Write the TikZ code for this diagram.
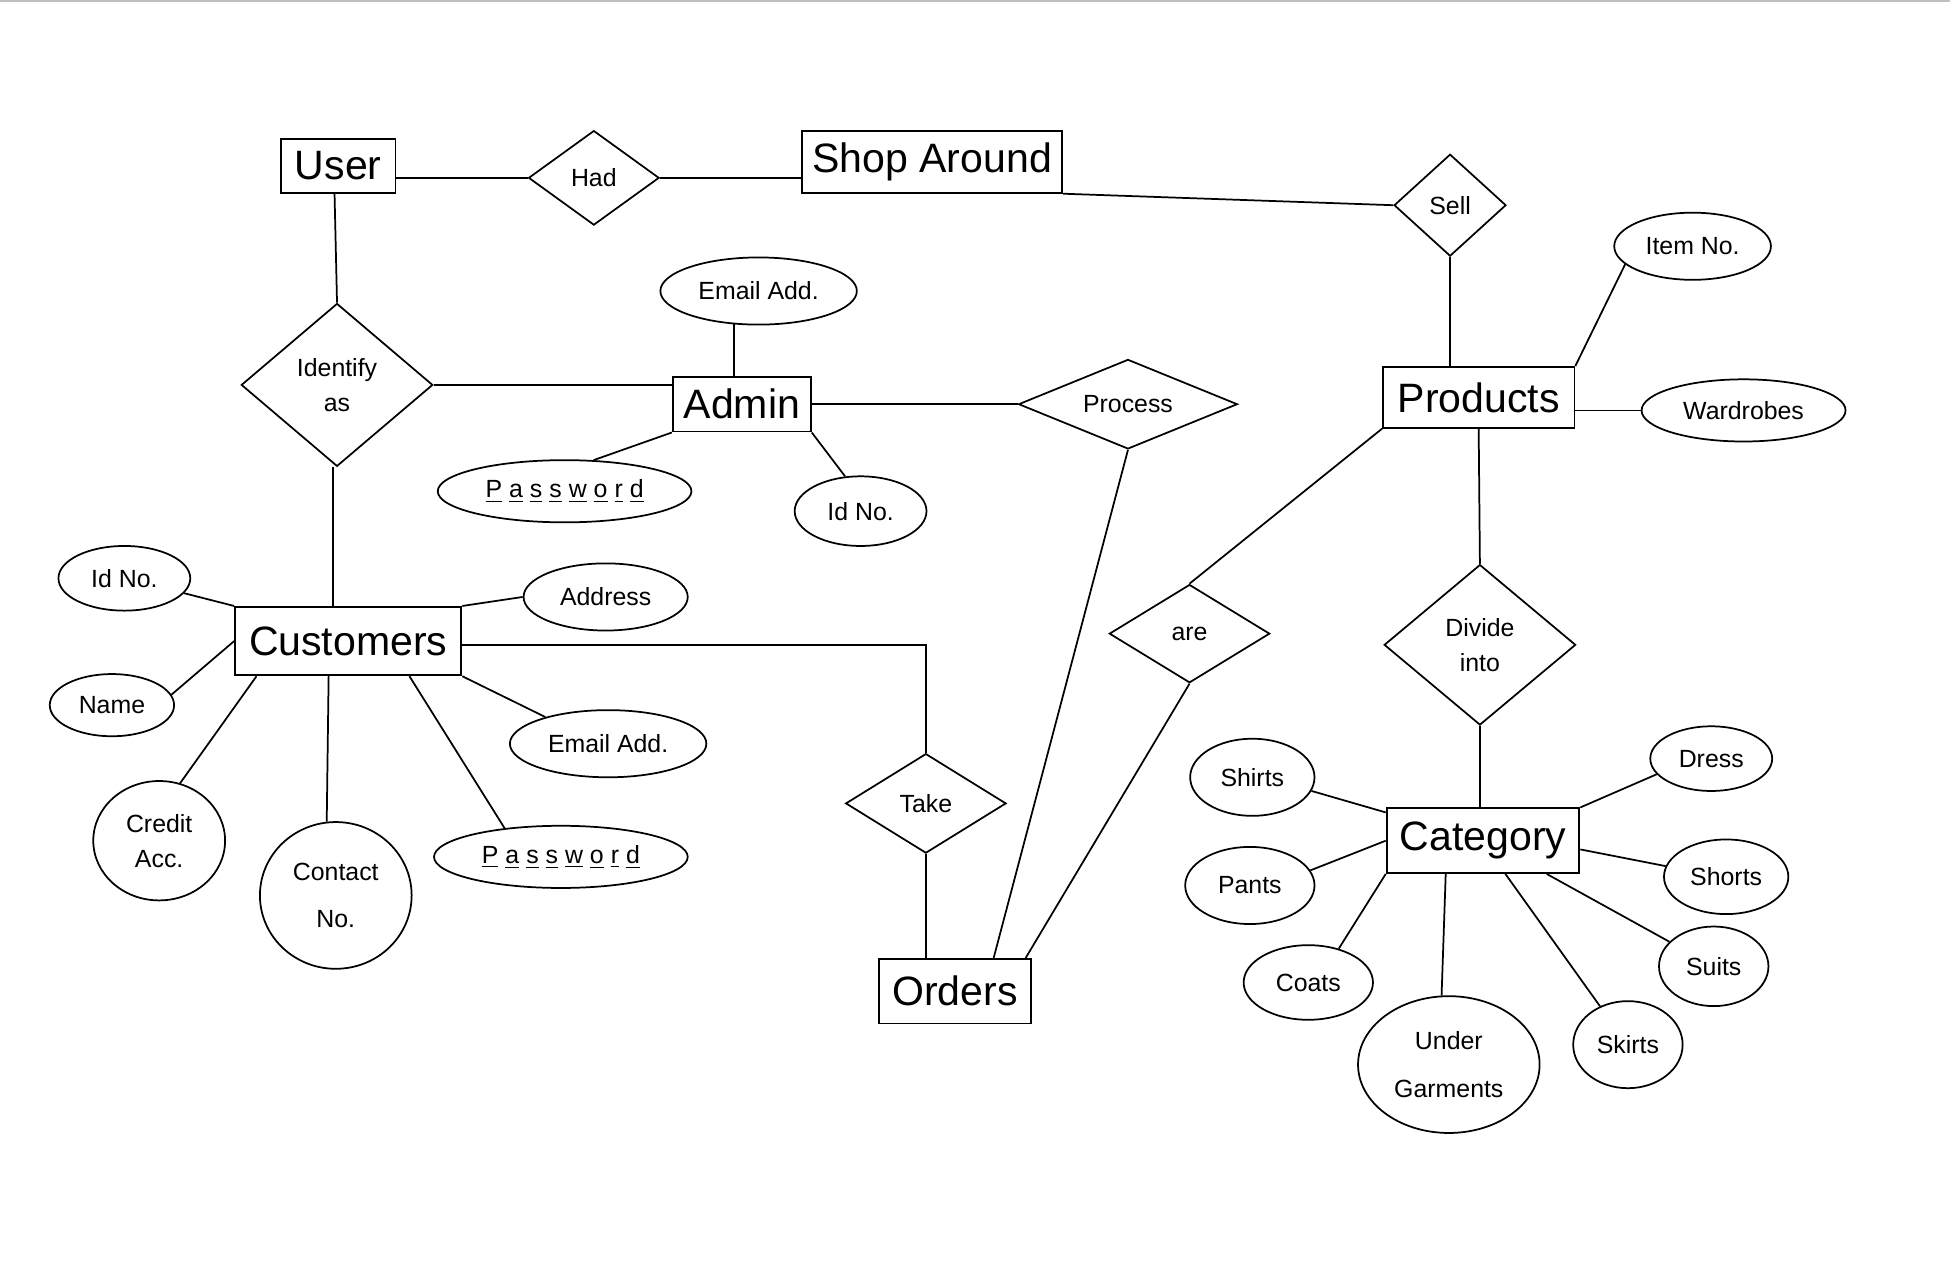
\documentclass[tikz,border=0pt]{standalone}
\usepackage{fontspec}
\setmainfont{Liberation Sans}
\usetikzlibrary{shapes.geometric,calc}
\newcommand{\pwdtext}{\underline{P}\kern2.8pt\underline{a}\kern2.8pt\underline{s}\kern2.8pt\underline{s}\kern2.8pt\underline{w}\kern2.8pt\underline{o}\kern2.8pt\underline{r}\kern2.8pt\underline{d}}
\tikzset{
  ent/.style={draw, rectangle, inner sep=0pt, line width=0.75pt, font=\fontsize{16.5}{19}\selectfont},
  rel/.style={draw, diamond, inner sep=0pt, line width=0.7pt, font=\fontsize{10}{14}\selectfont, align=center},
  attr/.style={draw, ellipse, inner sep=0pt, line width=0.7pt, font=\fontsize{10}{14}\selectfont, align=center},
  tall/.style={font=\fontsize{10}{19}\selectfont},
  link/.style={line width=0.7pt}
}
\begin{document}
\begin{tikzpicture}[x=0.5pt,y=-0.5pt]
\useasboundingbox (0,0) rectangle (1568,1025);
\draw[gray!50, line width=1pt] (0,1) -- (1568,1);
% entities
\node[ent, minimum width=46pt, minimum height=21.5pt] (user) at (272,133.5) {User};
\node[ent, minimum width=104.5pt, minimum height=25pt] (shop) at (749.5,130) {Shop Around};
\node[ent, minimum width=77pt, minimum height=24.5pt] (prod) at (1189,319.5) {Products};
\node[ent, minimum width=55.5pt, minimum height=22pt] (admin) at (596.5,325) {Admin};
\node[ent, minimum width=91pt, minimum height=27.5pt] (cust) at (280,515.5) {Customers};
\node[ent, minimum width=61pt, minimum height=26pt] (orders) at (768,797) {Orders};
\node[ent, minimum width=77.5pt, minimum height=26pt] (cat) at (1192.5,676) {Category};
% relationships
\node[rel, minimum width=52.5pt, minimum height=38pt] (had) at (477.5,143) {Had};
\node[rel, minimum width=45pt, minimum height=41pt] (sell) at (1166,165) {Sell};
\node[rel, shape aspect=2.4, minimum width=88pt, minimum height=36pt] (proc) at (907,325) {Process};
\node[rel, minimum width=77pt, minimum height=65.5pt] (ident) at (271,309.5) {Identify\\as};
\node[rel, minimum width=64.5pt, minimum height=40pt] (take) at (744.5,646) {Take};
\node[rel, minimum width=64.5pt, minimum height=39.5pt] (are) at (956.5,509.5) {are};
\node[rel, minimum width=77pt, minimum height=64.5pt] (div) at (1190,518.5) {Divide\\into};
% attributes
\node[attr, minimum width=63pt, minimum height=27pt] (item) at (1361,198) {Item No.};
\node[attr, minimum width=82pt, minimum height=25pt] (ward) at (1402,330) {Wardrobes};
\node[attr, minimum width=79pt, minimum height=27pt] (email1) at (610,234) {Email Add.};
\node[attr, minimum width=102pt, minimum height=25pt] (pw1) at (454,395) {\pwdtext};
\node[attr, minimum width=53pt, minimum height=28pt] (id1) at (692,411) {Id No.};
\node[attr, minimum width=53pt, minimum height=26pt] (idc) at (100,465) {Id No.};
\node[attr, minimum width=50pt, minimum height=25pt] (name) at (90,567) {Name};
\node[attr, minimum width=66pt, minimum height=27pt] (addr) at (487,480) {Address};
\node[attr, minimum width=79pt, minimum height=27pt] (email2) at (489,598) {Email Add.};
\node[attr, minimum width=53pt, minimum height=48pt] (credit) at (128,676) {Credit\\Acc.};
\node[attr, tall, minimum width=61pt, minimum height=59pt] (contact) at (270,720) {Contact\\No.};
\node[attr, minimum width=102pt, minimum height=25pt] (pw2) at (451,689) {\pwdtext};
\node[attr, minimum width=50pt, minimum height=31pt] (shirts) at (1007,625) {Shirts};
\node[attr, minimum width=49pt, minimum height=26pt] (dress) at (1376,610) {Dress};
\node[attr, minimum width=52pt, minimum height=31pt] (pants) at (1005,712) {Pants};
\node[attr, minimum width=50pt, minimum height=30pt] (shorts) at (1388,705) {Shorts};
\node[attr, minimum width=52pt, minimum height=30pt] (coats) at (1052,790) {Coats};
\node[attr, minimum width=44pt, minimum height=32pt] (suits) at (1378,777) {Suits};
\node[attr, tall, minimum width=73pt, minimum height=55pt] (under) at (1165,856) {Under\\Garments};
\node[attr, minimum width=44pt, minimum height=35pt] (skirts) at (1309,840) {Skirts};
% connectors
\draw[link] (had.west) -- (had.west -| user.east);
\draw[link] (had.east) -- (had.east -| shop.west);
\draw[link] (shop.south east) -- (sell.west);
\draw[link] (sell.south) -- (sell.south |- prod.north);
\draw[link] (prod.north east) -- (item.195);
\draw[link] (ward.west) -- (ward.west -| prod.east);
\draw[link] (email1.234) -- (email1.234 |- admin.north);
\draw[link] (ident.east) -- (ident.east -| admin.west);
\draw[link] (admin.east) -- (proc.west);
\draw[link] (admin.south west) -- (pw1.47);
\draw[link] (admin.south east) -- (id1.114);
\draw[link] ([xshift=-1.5pt]user.south) -- (ident.north);
\draw[link] ([xshift=-1.5pt]ident.south) -- ([xshift=-1.5pt]ident.south |- cust.north);
\draw[link] (idc.-14) -- (cust.north west);
\draw[link] (name.10) -- (cust.west);
\draw[link] (cust.north east) -- (addr.west);
\draw[link] (cust.south east) -- (email2.157);
\draw[link] ([xshift=9pt]cust.south west) -- (credit.70);
\draw[link] ([xshift=38pt]cust.south west) -- (contact.97);
\draw[link] ([xshift=70.5pt]cust.south west) -- (pw2.153);
\draw[link] ([yshift=-1.5pt]cust.east) -| (take.north);
\draw[link] (take.south) -- (take.south |- orders.north);
\draw[link] (proc.south) -- ([xshift=15.5pt]orders.north);
\draw[link] (are.north) -- (prod.south west);
\draw[link] (are.south) -- ([xshift=-2.5pt]orders.north east);
\draw[link] (prod.south) -- (div.north);
\draw[link] (div.south) -- (div.south |- cat.north);
\draw[link] (shirts.-13) -- ([yshift=-2pt]cat.north west);
\draw[link] (dress.196) -- (cat.north east);
\draw[link] (pants.14) -- (cat.west);
\draw[link] ([yshift=-3.5pt]cat.east) -- (shorts.170);
\draw[link] (coats.48) -- (cat.south west);
\draw[link] ([xshift=-13.5pt]cat.south east) -- (suits.151);
\draw[link] ([xshift=-15pt]cat.south) -- (under.96);
\draw[link] ([xshift=9pt]cat.south) -- (skirts.126);
\end{tikzpicture}
\end{document}
